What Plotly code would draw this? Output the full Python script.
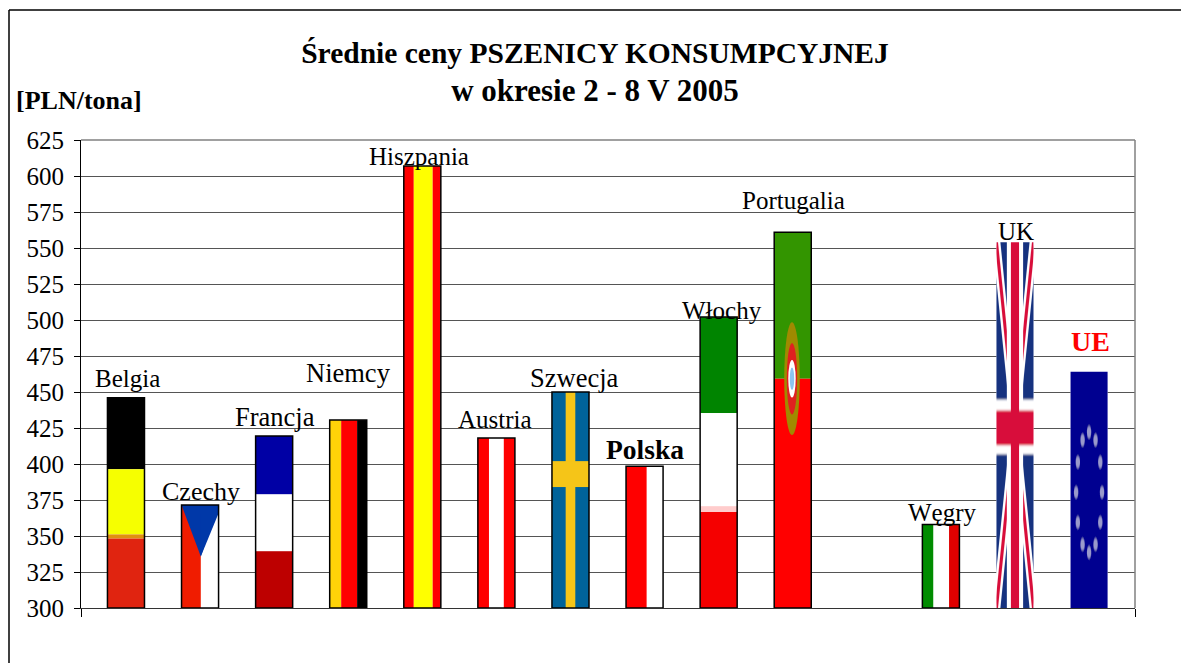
import base64
import math
import plotly.graph_objects as go

categories = ["Belgia", "Czechy", "Francja", "Niemcy", "Hiszpania", "Austria", "Szwecja",
              "Polska", "Włochy", "Portugalia", "", "Węgry", "UK", "UE"]
values = [446, 371.5, 419.5, 430.5, 607, 418, 450, 398.5, 502, 561, None, 358, 554, 464]
y_ticks = [300, 325, 350, 375, 400, 425, 450, 475, 500, 525, 550, 575, 600, 625]
title_lines = ["Średnie ceny PSZENICY KONSUMPCYJNEJ", "w okresie 2 - 8 V 2005"]
unit_label = "[PLN/tona]"

FONT = "Liberation Serif"
BAR_W = 0.5
X_LO, X_HI = -0.607, 13.62
Y_BASE = 300


def bands_h(*bands):
    return "".join(f'<rect x="0" y="{a}" width="100" height="{b-a}" fill="{c}"/>' for a, b, c in bands)


def bands_v(*bands):
    return "".join(f'<rect x="{a}" y="0" width="{b-a}" height="100" fill="{c}"/>' for a, b, c in bands)


def eu_stars():
    out = ""
    for k in range(12):
        t = math.radians(k * 30)
        cx = 50 + 35 * math.sin(t)
        cy = 51 - 25.5 * math.cos(t)
        out += f'<ellipse cx="{cx:.1f}" cy="{cy:.1f}" rx="6" ry="2.6" fill="#9a9acb"/>'
    return out


BLUR = '<defs><filter id="b" x="-5%" y="-5%" width="110%" height="110%"><feGaussianBlur stdDeviation="1.2 0.35"/></filter></defs>'

UK = (
    BLUR + '<g filter="url(#b)"><rect x="-5" y="-5" width="110" height="110" fill="#12307f"/>'
    '<path d="M0 0L100 100M100 0L0 100" stroke="#ffffff" stroke-width="15" fill="none"/>'
    '<path d="M0 0L100 100M100 0L0 100" stroke="#d8103a" stroke-width="6" fill="none"/>'
    '<rect x="28" y="-5" width="44" height="110" fill="#ffffff"/><rect x="-5" y="43" width="110" height="15" fill="#ffffff"/>'
    '<rect x="39" y="-5" width="22" height="110" fill="#d8103a"/><rect x="-5" y="46" width="110" height="9.5" fill="#d8103a"/></g>'
)

flags = {
    "Belgia": bands_h((0, 34, "#000000"), (34, 65, "#f6ff00"), (65, 67, "#e09010"), (67, 100, "#e02410")),
    "Czechy": bands_h((0, 100, "#ffffff")) + '<rect x="0" width="52" height="100" fill="#f01c00"/>'
              '<path d="M0 0L100 0L52 50Z" fill="#0038a8"/><path d="M52 0L100 0L100 8L52 50Z" fill="#0038a8"/>',
    "Francja": bands_h((0, 34, "#0000a5"), (34, 67, "#ffffff"), (67, 100, "#bd0000")),
    "Niemcy": bands_v((0, 31, "#ffd308"), (31, 74, "#ff0000"), (74, 100, "#000000")),
    "Hiszpania": bands_v((0, 27, "#ff0000"), (27, 78, "#ffff00"), (78, 100, "#ff0000")),
    "Austria": bands_v((0, 30, "#ff0000"), (30, 70, "#ffffff"), (70, 100, "#ff0000")),
    "Szwecja": bands_v((0, 100, "#00639a")) + bands_v((37, 63, "#f5c518")) + bands_h((32, 44, "#f5c518")),
    "Polska": bands_v((0, 56, "#ff0000"), (56, 100, "#ffffff")),
    "Włochy": bands_h((0, 33, "#008400"), (33, 65, "#ffffff"), (65, 67, "#ffcccc"), (67, 100, "#f50000")),
    "Portugalia": bands_h((0, 39, "#339500"), (39, 100, "#ff0000"))
                  + '<ellipse cx="48" cy="39" rx="21" ry="15" fill="#a08a00"/>'
                    '<ellipse cx="48" cy="39" rx="14" ry="9.5" fill="#e02020"/>'
                    '<ellipse cx="48" cy="39" rx="10" ry="5" fill="#ffffff"/>'
                    '<ellipse cx="48" cy="39" rx="6" ry="3" fill="#8cc4f0"/>',
    "Węgry": bands_v((0, 30, "#008c00"), (30, 72, "#ffffff"), (72, 100, "#e00000")),
    "UK": UK,
    "UE": BLUR + '<g filter="url(#b)"><rect x="-5" y="-5" width="110" height="110" fill="#000090"/>' + eu_stars() + '</g>',
}
outlined = {"Belgia", "Czechy", "Francja", "Niemcy", "Hiszpania", "Austria", "Szwecja",
            "Polska", "Włochy", "Portugalia", "Węgry"}

label_shift = {  # pixel offsets of each label (dx, dy above bar top)
    "Belgia": (2, 4), "Czechy": (1, -3), "Francja": (1, 2), "Niemcy": (0, 30), "Hiszpania": (-3, -6),
    "Austria": (-1, 3), "Szwecja": (4, -3), "Polska": (0, -1), "Włochy": (3, -9), "Portugalia": (1, 16),
    "Węgry": (2, -4), "UK": (1, -5), "UE": (1, 13),
}
label_size = {"Czechy": 26, "Francja": 26.5, "Niemcy": 26.5, "Szwecja": 26.5, "Polska": 27.5, "UE": 28}
label_style = {"Polska": dict(color="#000000", weight="bold"), "UE": dict(color="#ff0000", weight="bold")}


def svg_uri(body):
    svg = f'<svg xmlns="http://www.w3.org/2000/svg" viewBox="0 0 100 100" preserveAspectRatio="none">{body}</svg>'
    return "data:image/svg+xml;base64," + base64.b64encode(svg.encode()).decode()


xs = list(range(len(categories)))
fig = go.Figure(go.Bar(
    x=xs, y=[None if v is None else v - Y_BASE for v in values], base=Y_BASE, width=BAR_W,
    marker=dict(color="#ffffff", line=dict(width=0)), text=categories, textposition="none",
    hovertemplate="%{text}: %{customdata}<extra></extra>", customdata=values,
))

images, shapes, annotations = [], [], []
for x, name, v in zip(xs, categories, values):
    if v is None:
        continue
    images.append(dict(source=svg_uri(flags[name]), xref="x", yref="y", x=x - BAR_W / 2, y=v,
                       sizex=BAR_W, sizey=v - Y_BASE, sizing="stretch", xanchor="left", yanchor="top",
                       layer="above"))
    if name in outlined:
        shapes.append(dict(type="rect", xref="x", yref="y", x0=x - BAR_W / 2, x1=x + BAR_W / 2,
                           y0=Y_BASE, y1=v, line=dict(color="#000000", width=1.5)))
    dx, dy = label_shift[name]
    style = label_style.get(name, dict(color="#000000", weight="normal"))
    annotations.append(dict(x=x, y=v, xref="x", yref="y", text=name, showarrow=False, xanchor="center",
                            yanchor="bottom", xshift=dx, yshift=dy,
                            font=dict(family=FONT, size=label_size.get(name, 25), color=style["color"],
                                      weight=style["weight"])))

annotations.append(dict(x=(14 - 81) / 1054, y=(608 - 100) / 468, xref="paper", yref="paper", text=unit_label,
                        showarrow=False, xanchor="left", yanchor="middle",
                        font=dict(family=FONT, size=26, color="#000000", weight="bold")))

# outer frame and the grey border on top and right of the plot
shapes.append(dict(type="line", xref="paper", yref="paper", x0=(9 - 81) / 1054, x1=(1181 - 81) / 1054,
                   y0=(608 - 10) / 468, y1=(608 - 10) / 468, line=dict(color="#000000", width=1.5)))
shapes.append(dict(type="line", xref="paper", yref="paper", x0=(9 - 81) / 1054, x1=(9 - 81) / 1054,
                   y0=(608 - 10) / 468, y1=(608 - 663) / 468, line=dict(color="#000000", width=1.5)))
shapes.append(dict(type="line", xref="paper", yref="paper", x0=1, x1=1, y0=0, y1=1,
                   line=dict(color="#808080", width=1.5)))
shapes.append(dict(type="line", xref="paper", yref="paper", x0=0, x1=1, y0=1, y1=1,
                   line=dict(color="#808080", width=1.5)))

title_text = title_lines[0] + '<br><span style="font-size:31px">' + title_lines[1] + "</span>"
fig.update_layout(
    width=1181, height=663, margin=dict(l=81, r=46, t=140, b=55, pad=0), showlegend=False,
    paper_bgcolor="#ffffff", plot_bgcolor="#ffffff", images=images, shapes=shapes, annotations=annotations,
    title=dict(text=title_text, x=595 / 1181, xanchor="center", y=1 - 63 / 663, yanchor="middle",
               font=dict(family=FONT, size=29.5, color="#000000", weight="bold")),
    xaxis=dict(range=[X_LO, X_HI], tickvals=[X_LO, X_HI], ticktext=["", ""], ticks="outside", ticklen=8,
               tickcolor="#000000", showgrid=False, zeroline=False, showline=True, linecolor="#333333", linewidth=1),
    yaxis=dict(range=[300, 625], tickvals=y_ticks, ticks="outside", ticklen=6, tickcolor="#000000",
               ticklabelstandoff=5, showgrid=True, gridcolor="#555555", gridwidth=1, zeroline=False, showline=True,
               linecolor="#000000", linewidth=1, tickfont=dict(family=FONT, size=25, color="#000000")),
)

fig.write_html("out.html", config=dict(displayModeBar=False),
               post_script="document.body.style.margin='0';document.body.style.overflow='hidden';")
